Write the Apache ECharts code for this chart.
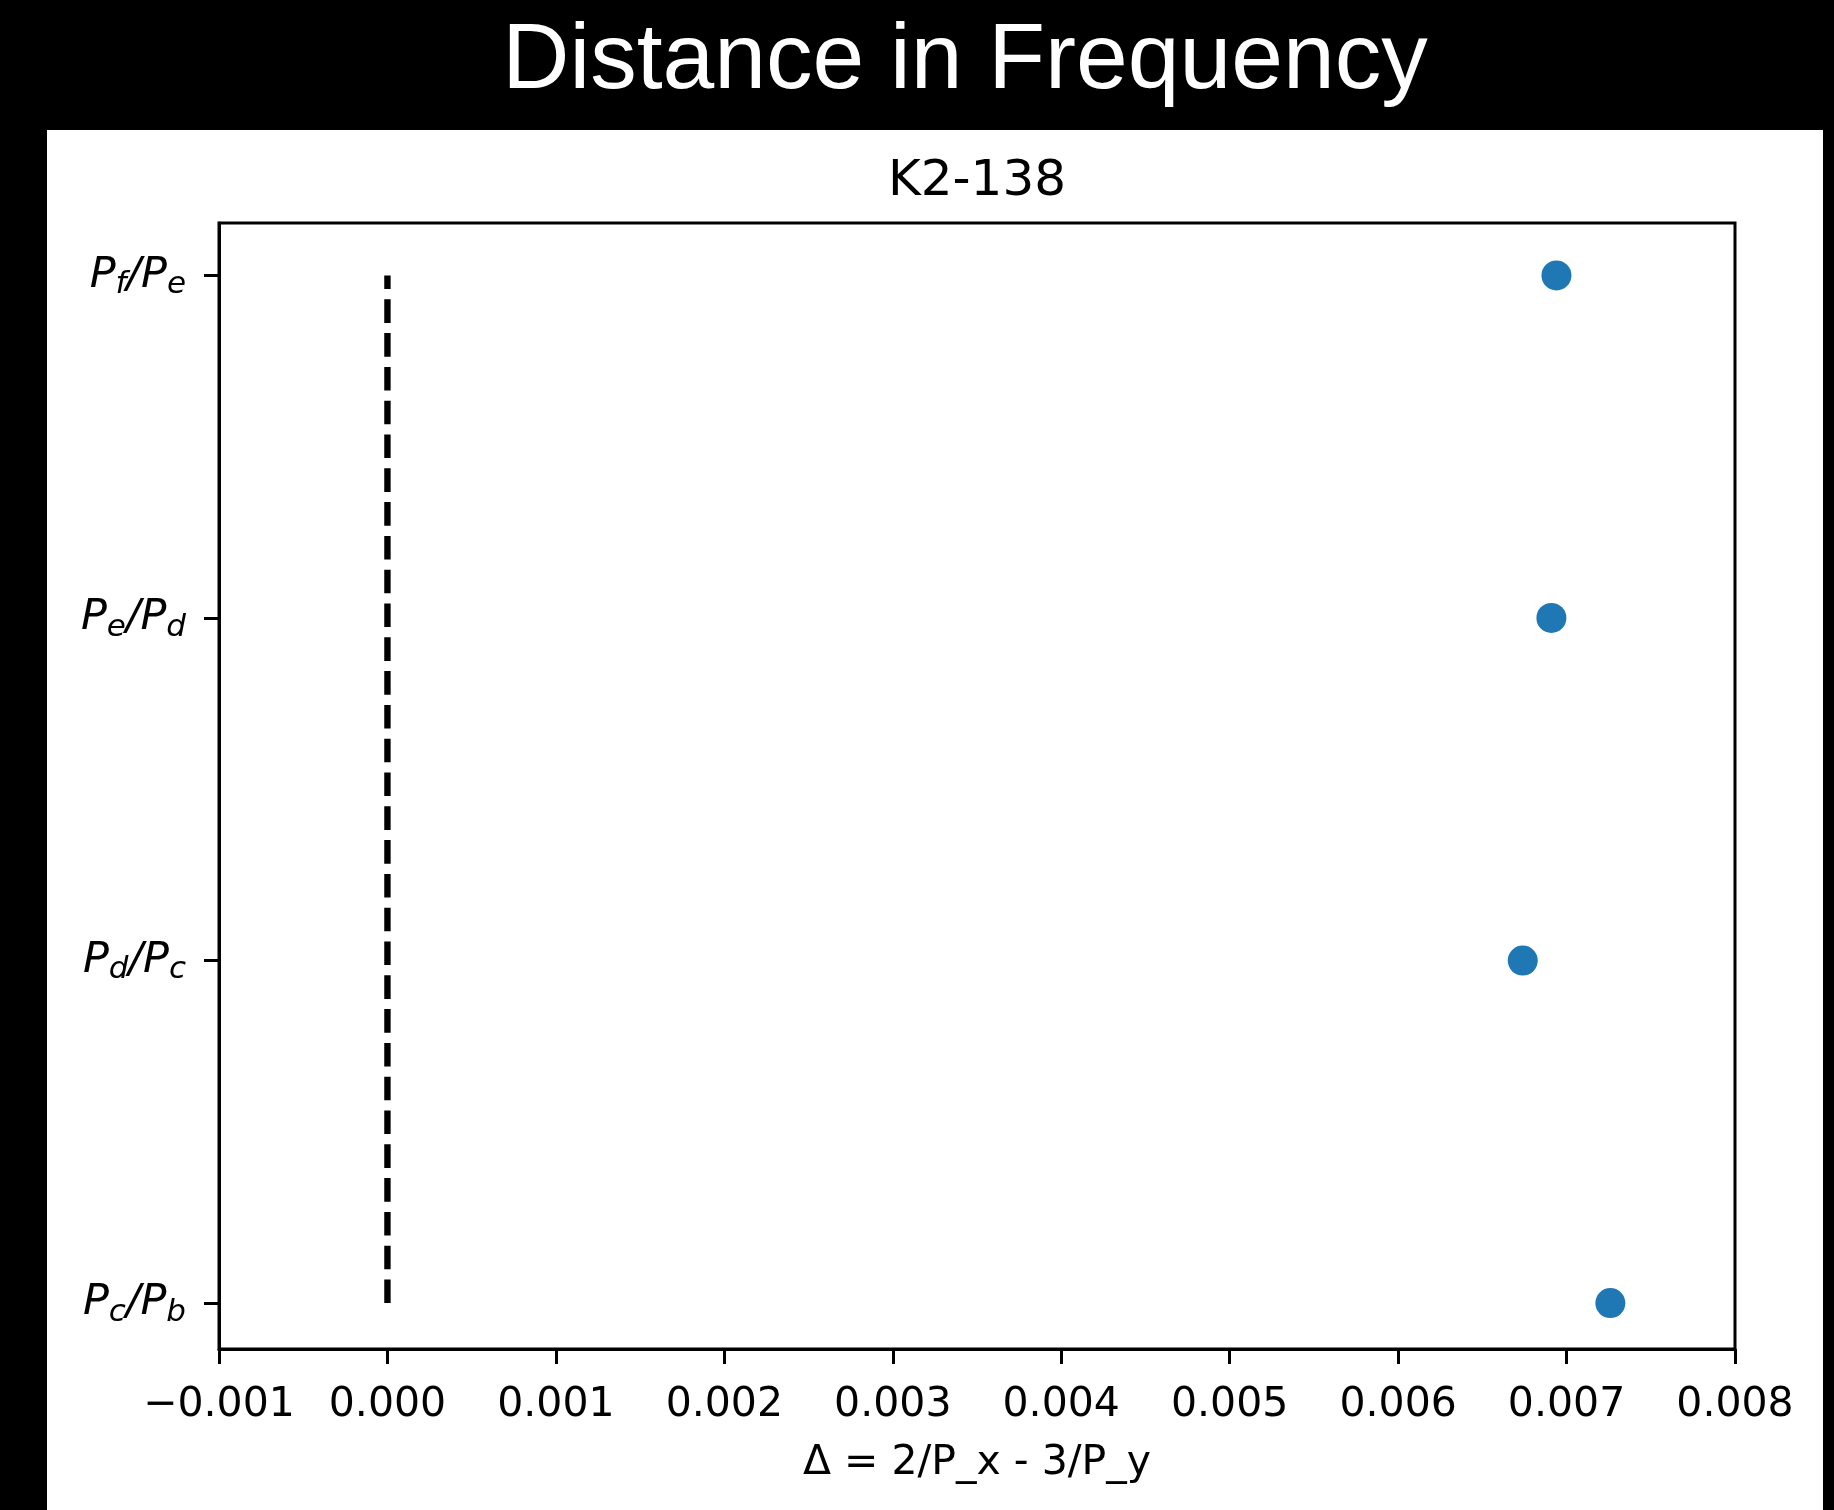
<!DOCTYPE html>
<html>
<head>
<meta charset="utf-8">
<title>Distance in Frequency</title>
<script src="https://cdn.jsdelivr.net/npm/echarts@6/dist/echarts.min.js"></script>
<style>
  html, body { margin: 0; padding: 0; background: #000; }
  #chart { width: 1834px; height: 1510px; }
</style>
</head>
<body>
<div id="chart"></div>
<script>
// Period-ratio pairs, bottom to top: [outer planet, inner planet] subscripts
const pairOuter = ['c', 'd', 'e', 'f'];
const pairInner = ['b', 'c', 'd', 'e'];
// Δ = 2/P_x - 3/P_y for each adjacent pair of K2-138 planets
const deltaValues = [0.00726, 0.00674, 0.00691, 0.00694];
// Exact resonance reference (Δ = 0)
const resonanceValue = 0;
// x-axis tick range
const xTickMin = -0.001;
const xTickMax = 0.008;
const xTickStep = 0.001;

const pairIndex = deltaValues.map((_, i) => i);
const scatterData = deltaValues.map((d, i) => [d, pairIndex[i]]);
const refLine = [[resonanceValue, pairIndex[0]], [resonanceValue, pairIndex[pairIndex.length - 1]]];

const chart = echarts.init(document.getElementById('chart'), null, { renderer: 'canvas' });

const grid = { left: 219, top: 223, width: 1516, height: 1126 };
const tickFont = 'DejaVu Sans';

chart.setOption({
  backgroundColor: '#000',
  animation: false,
  graphic: [
    {
      type: 'rect', z: -10, silent: true,
      shape: { x: 47, y: 130, width: 1776, height: 1380 },
      style: { fill: '#fff' }
    },
    {
      type: 'text', z: 10,
      style: {
        text: 'Distance in Frequency', x: 965, y: 62,
        fill: '#fff', font: '93px "Liberation Sans", Helvetica, Arial, sans-serif',
        align: 'center', verticalAlign: 'middle'
      }
    },
    {
      type: 'text', z: 10,
      style: {
        text: 'K2-138', x: grid.left + grid.width / 2, y: 182,
        fill: '#000', font: '50px "DejaVu Sans"',
        align: 'center', verticalAlign: 'middle'
      }
    },
    {
      type: 'text', z: 10,
      style: {
        text: 'Δ = 2/P_x - 3/P_y', x: grid.left + grid.width / 2, y: 1463,
        fill: '#000', font: '41px "DejaVu Sans"',
        align: 'center', verticalAlign: 'middle'
      }
    }
  ],
  grid: Object.assign({ show: true, borderColor: '#000', borderWidth: 3, backgroundColor: 'transparent' }, grid),
  xAxis: {
    type: 'value',
    min: xTickMin, max: xTickMax, interval: xTickStep,
    axisLine: { show: true, onZero: false, lineStyle: { color: '#000', width: 3 } },
    axisTick: { show: true, inside: false, length: 15, lineStyle: { color: '#000', width: 3 } },
    splitLine: { show: false },
    axisLabel: {
      margin: 36, color: '#000', fontFamily: tickFont, fontSize: 41,
      showMinLabel: true, showMaxLabel: true,
      formatter: v => (v < -1e-12 ? '\u2212' : '') + Math.abs(v).toFixed(3)
    }
  },
  yAxis: {
    type: 'value',
    min: -0.134, max: 3.153,
    axisLine: { show: true, onZero: false, lineStyle: { color: '#000', width: 3 } },
    axisTick: { show: true, inside: false, length: 15, customValues: pairIndex, lineStyle: { color: '#000', width: 3 } },
    splitLine: { show: false },
    axisLabel: {
      margin: 33, color: '#000',
      customValues: pairIndex,
      formatter: v => {
        const i = Math.round(v);
        return '{p|P}{s|' + pairOuter[i] + '}{p|/P}{s|' + pairInner[i] + '}';
      },
      rich: {
        p: { fontFamily: tickFont, fontStyle: 'italic', fontSize: 43, lineHeight: 50, color: '#000' },
        s: { fontFamily: tickFont, fontStyle: 'italic', fontSize: 31, lineHeight: 26, verticalAlign: 'bottom', color: '#000' }
      }
    }
  },
  series: [
    {
      type: 'line',
      data: refLine,
      symbol: 'none',
      lineStyle: { color: '#000', width: 6.4, type: [23.6, 10.2], cap: 'butt' },
      z: 3
    },
    {
      type: 'scatter',
      data: scatterData,
      symbol: 'circle',
      symbolSize: 30,
      itemStyle: { color: '#1f77b4', opacity: 1 },
      z: 4
    }
  ]
});
</script>
</body>
</html>
